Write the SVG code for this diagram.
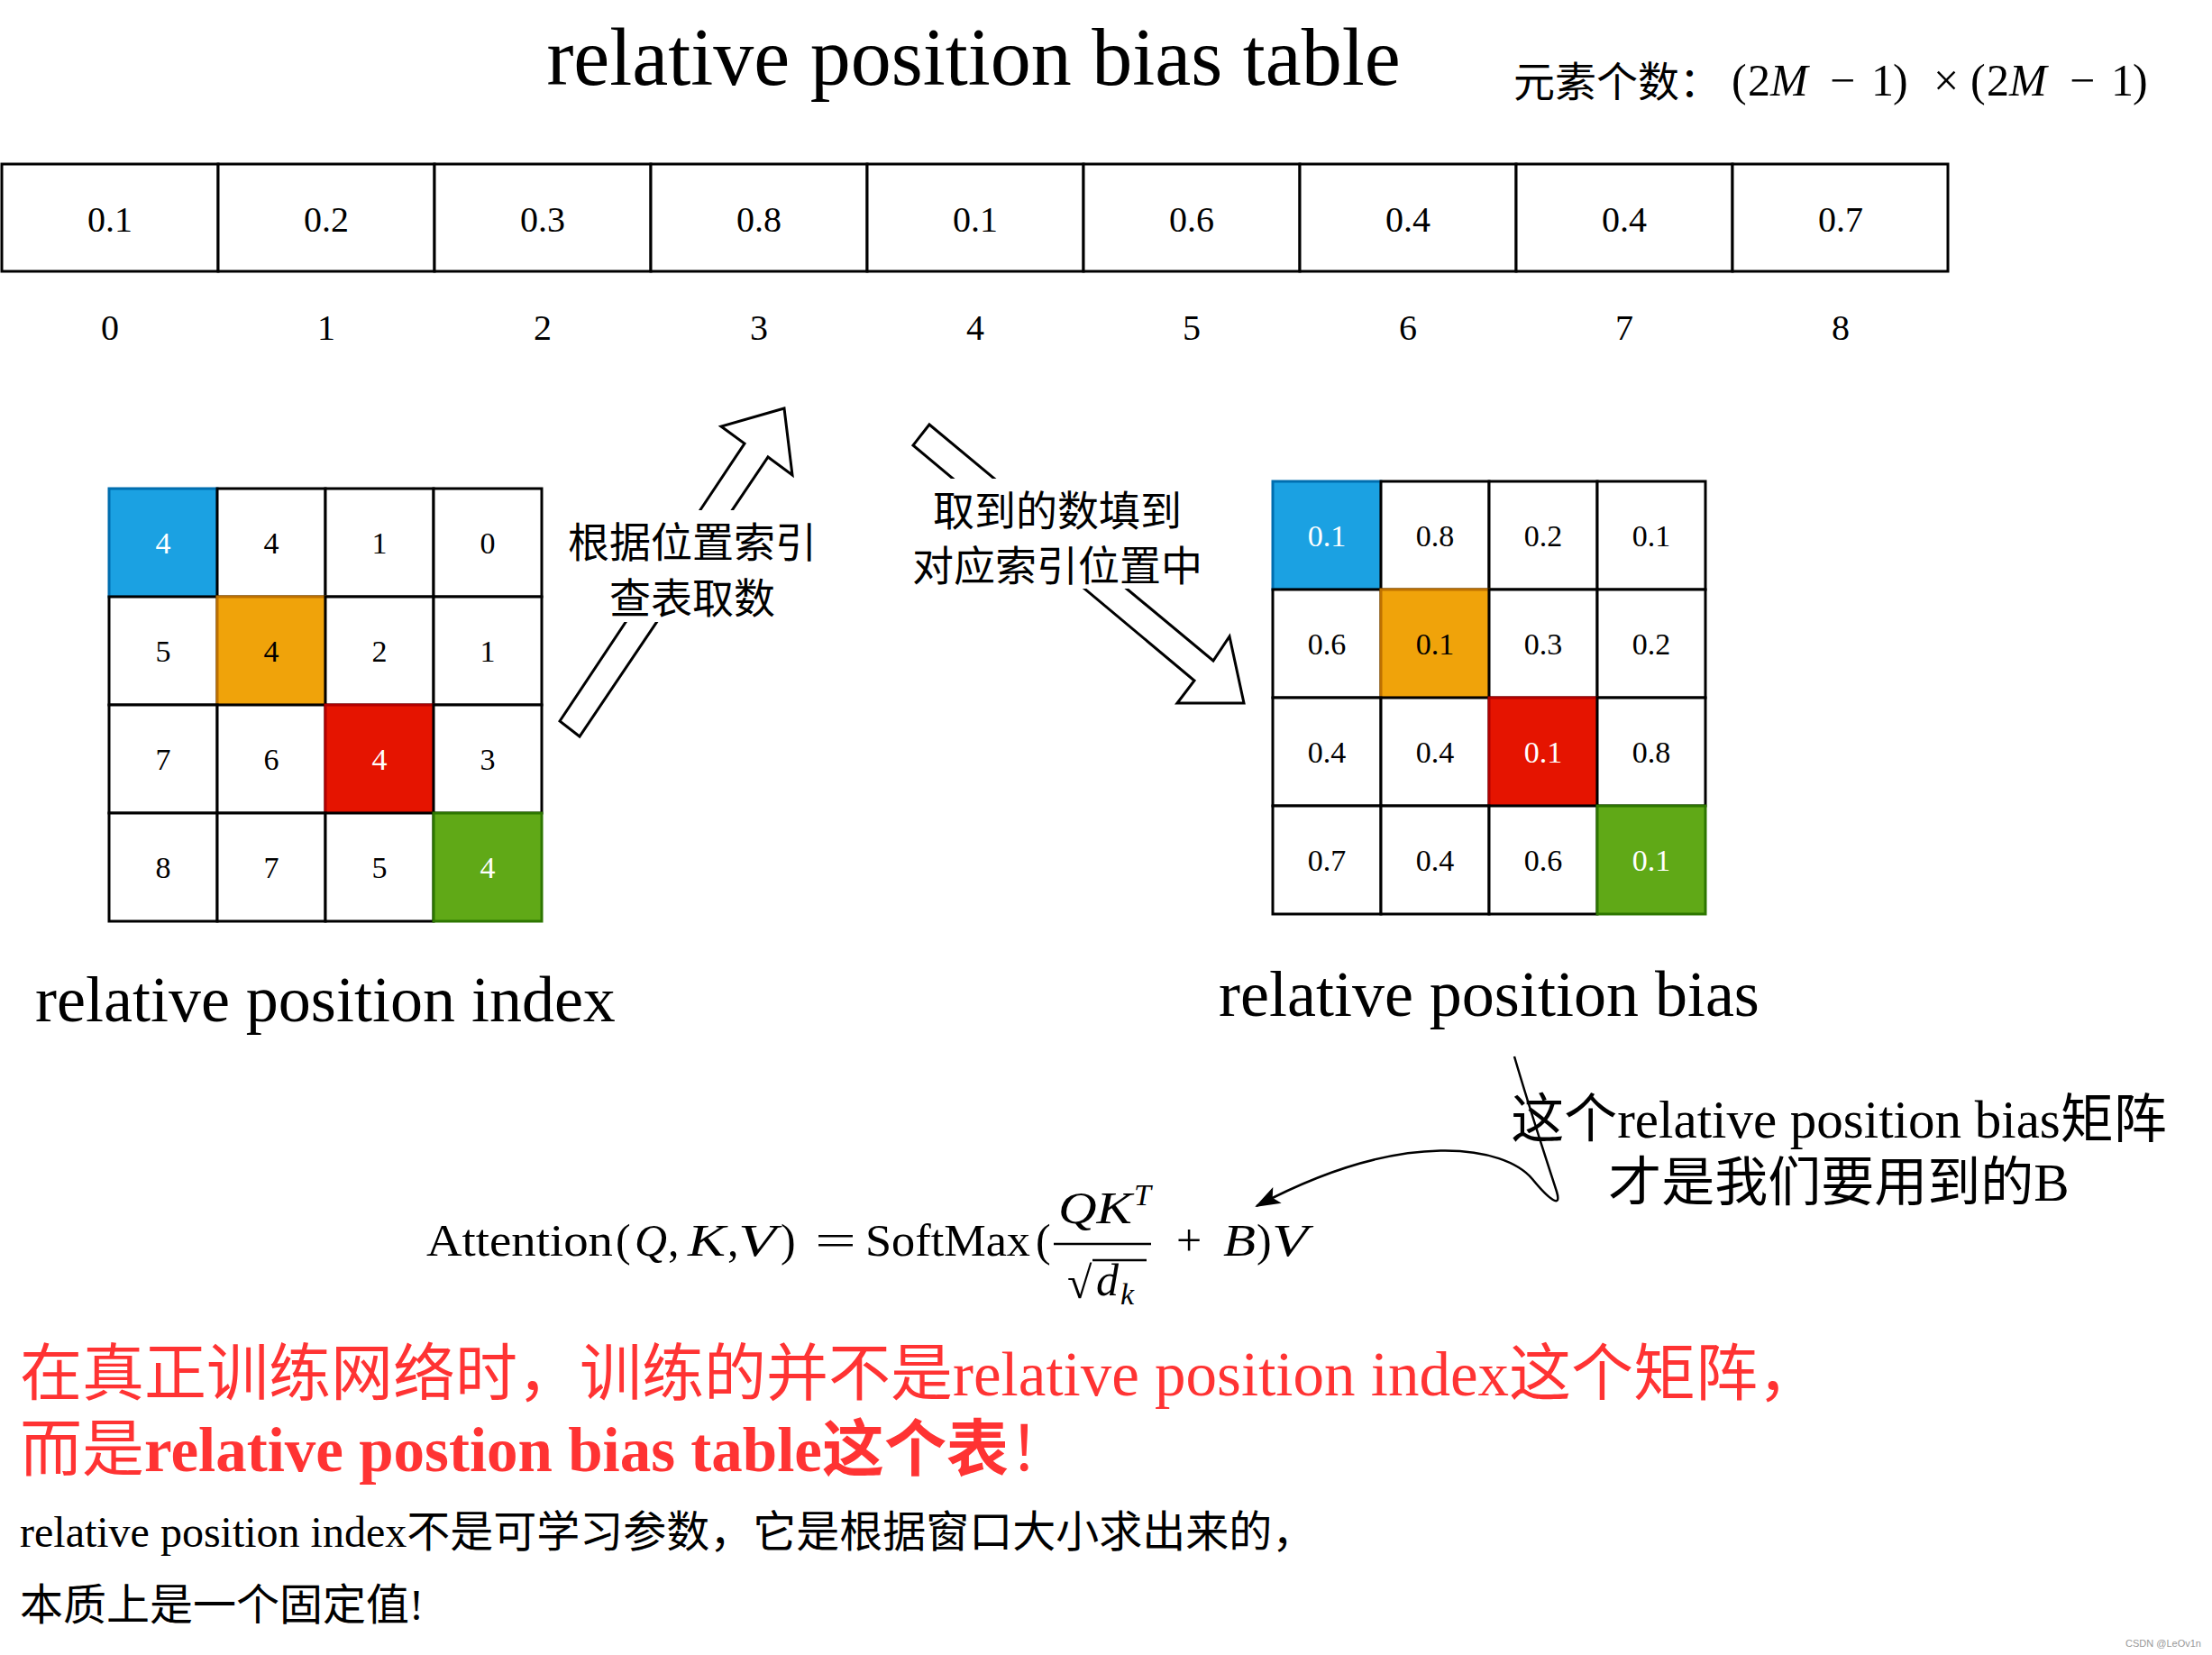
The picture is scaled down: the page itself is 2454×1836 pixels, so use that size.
<svg xmlns="http://www.w3.org/2000/svg" width="2454" height="1836" viewBox="0 0 2454 1836">
<defs>
<style>
.serif{font-family:"Liberation Serif","Times New Roman",serif}
.mix{font-family:"Liberation Serif","Noto Sans CJK SC",sans-serif}
.cjk{font-family:"Noto Sans CJK SC",sans-serif}
.cell{fill:#fff;stroke:#000;stroke-width:3}
.blue{fill:#1BA1E2;stroke:#006EAF;stroke-width:3}
.orange{fill:#F0A30A;stroke:#BD7000;stroke-width:3}
.red{fill:#E51400;stroke:#B20000;stroke-width:3}
.green{fill:#60A917;stroke:#2D7600;stroke-width:3}
.tv{font-family:"Liberation Serif","Times New Roman",serif;font-size:40px;text-anchor:middle;fill:#000}
.gv{font-family:"Liberation Serif","Times New Roman",serif;font-size:34px;text-anchor:middle;fill:#000}
.w{fill:#fff}
.blk{fill:#fff;stroke:#000;stroke-width:3;stroke-linejoin:miter}
.math{font-family:"Liberation Serif","Times New Roman",serif;font-size:50px;fill:#000}
.it{font-style:italic}
.red-t{fill:#FF3333}
</style>
<marker id="ah" markerUnits="userSpaceOnUse" markerWidth="30" markerHeight="24" refX="26" refY="10" orient="auto">
<path d="M0,0 L28,10 L0,20 L6,10 Z" fill="#000"/>
</marker>
</defs>
<rect width="2454" height="1836" fill="#fff"/>

<g id="title">
<text class="serif" x="1080" y="94" font-size="90" text-anchor="middle">relative position bias table</text>
</g>

<g id="element-count">
<text class="cjk" x="1679" y="107" font-size="46">元素个数：</text>
<text class="serif" y="106" font-size="50"><tspan x="1921">(</tspan><tspan x="1939">2</tspan><tspan x="1964" class="it">M</tspan><tspan x="2030">−</tspan><tspan x="2076">1</tspan><tspan x="2100">)</tspan><tspan x="2145">×</tspan><tspan x="2186">(</tspan><tspan x="2204">2</tspan><tspan x="2229" class="it">M</tspan><tspan x="2296">−</tspan><tspan x="2342">1</tspan><tspan x="2366">)</tspan></text>
</g>

<g id="bias-table">
<rect class="cell" x="2" y="182" width="240" height="119"/>
<rect class="cell" x="242" y="182" width="240" height="119"/>
<rect class="cell" x="482" y="182" width="240" height="119"/>
<rect class="cell" x="722" y="182" width="240" height="119"/>
<rect class="cell" x="962" y="182" width="240" height="119"/>
<rect class="cell" x="1202" y="182" width="240" height="119"/>
<rect class="cell" x="1442" y="182" width="240" height="119"/>
<rect class="cell" x="1682" y="182" width="240" height="119"/>
<rect class="cell" x="1922" y="182" width="239" height="119"/>
<text class="tv" x="122" y="257">0.1</text>
<text class="tv" x="362" y="257">0.2</text>
<text class="tv" x="602" y="257">0.3</text>
<text class="tv" x="842" y="257">0.8</text>
<text class="tv" x="1082" y="257">0.1</text>
<text class="tv" x="1322" y="257">0.6</text>
<text class="tv" x="1562" y="257">0.4</text>
<text class="tv" x="1802" y="257">0.4</text>
<text class="tv" x="2042" y="257">0.7</text>
</g>

<g id="table-indices">
<text class="tv" x="122" y="377">0</text>
<text class="tv" x="362" y="377">1</text>
<text class="tv" x="602" y="377">2</text>
<text class="tv" x="842" y="377">3</text>
<text class="tv" x="1082" y="377">4</text>
<text class="tv" x="1322" y="377">5</text>
<text class="tv" x="1562" y="377">6</text>
<text class="tv" x="1802" y="377">7</text>
<text class="tv" x="2042" y="377">8</text>
</g>

<g id="relative-position-index">
<rect class="blue" x="121" y="542" width="120" height="120"/>
<rect class="cell" x="241" y="542" width="120" height="120"/>
<rect class="cell" x="361" y="542" width="120" height="120"/>
<rect class="cell" x="481" y="542" width="120" height="120"/>
<rect class="cell" x="121" y="662" width="120" height="120"/>
<rect class="orange" x="241" y="662" width="120" height="120"/>
<rect class="cell" x="361" y="662" width="120" height="120"/>
<rect class="cell" x="481" y="662" width="120" height="120"/>
<rect class="cell" x="121" y="782" width="120" height="120"/>
<rect class="cell" x="241" y="782" width="120" height="120"/>
<rect class="red" x="361" y="782" width="120" height="120"/>
<rect class="cell" x="481" y="782" width="120" height="120"/>
<rect class="cell" x="121" y="902" width="120" height="120"/>
<rect class="cell" x="241" y="902" width="120" height="120"/>
<rect class="cell" x="361" y="902" width="120" height="120"/>
<rect class="green" x="481" y="902" width="120" height="120"/>
<text class="gv w" x="181" y="614">4</text>
<text class="gv" x="301" y="614">4</text>
<text class="gv" x="421" y="614">1</text>
<text class="gv" x="541" y="614">0</text>
<text class="gv" x="181" y="734">5</text>
<text class="gv" x="301" y="734">4</text>
<text class="gv" x="421" y="734">2</text>
<text class="gv" x="541" y="734">1</text>
<text class="gv" x="181" y="854">7</text>
<text class="gv" x="301" y="854">6</text>
<text class="gv w" x="421" y="854">4</text>
<text class="gv" x="541" y="854">3</text>
<text class="gv" x="181" y="974">8</text>
<text class="gv" x="301" y="974">7</text>
<text class="gv" x="421" y="974">5</text>
<text class="gv w" x="541" y="974">4</text>
<text class="serif" x="39" y="1133" font-size="72">relative position index</text>
</g>

<g id="relative-position-bias">
<rect class="blue" x="1412" y="534" width="120" height="120"/>
<rect class="cell" x="1532" y="534" width="120" height="120"/>
<rect class="cell" x="1652" y="534" width="120" height="120"/>
<rect class="cell" x="1772" y="534" width="120" height="120"/>
<rect class="cell" x="1412" y="654" width="120" height="120"/>
<rect class="orange" x="1532" y="654" width="120" height="120"/>
<rect class="cell" x="1652" y="654" width="120" height="120"/>
<rect class="cell" x="1772" y="654" width="120" height="120"/>
<rect class="cell" x="1412" y="774" width="120" height="120"/>
<rect class="cell" x="1532" y="774" width="120" height="120"/>
<rect class="red" x="1652" y="774" width="120" height="120"/>
<rect class="cell" x="1772" y="774" width="120" height="120"/>
<rect class="cell" x="1412" y="894" width="120" height="120"/>
<rect class="cell" x="1532" y="894" width="120" height="120"/>
<rect class="cell" x="1652" y="894" width="120" height="120"/>
<rect class="green" x="1772" y="894" width="120" height="120"/>
<text class="gv w" x="1472" y="606">0.1</text>
<text class="gv" x="1592" y="606">0.8</text>
<text class="gv" x="1712" y="606">0.2</text>
<text class="gv" x="1832" y="606">0.1</text>
<text class="gv" x="1472" y="726">0.6</text>
<text class="gv" x="1592" y="726">0.1</text>
<text class="gv" x="1712" y="726">0.3</text>
<text class="gv" x="1832" y="726">0.2</text>
<text class="gv" x="1472" y="846">0.4</text>
<text class="gv" x="1592" y="846">0.4</text>
<text class="gv w" x="1712" y="846">0.1</text>
<text class="gv" x="1832" y="846">0.8</text>
<text class="gv" x="1472" y="966">0.7</text>
<text class="gv" x="1592" y="966">0.4</text>
<text class="gv" x="1712" y="966">0.6</text>
<text class="gv w" x="1832" y="966">0.1</text>
<text class="serif" x="1352" y="1127" font-size="72">relative position bias</text>
</g>

<g id="connectors">
<polygon class="blk" points="621,800 826,492 800,473 870,453 879,527 852,507 643,817"/>
<polygon class="blk" points="1031,471 1346,733 1364,706 1380,780 1306,780 1325,755 1013,494"/>
<path d="M1680,1172 C1700,1240 1720,1300 1727,1322 C1733,1342 1718,1330 1700,1308 C1670,1272 1560,1250 1394,1338" fill="none" stroke="#000" stroke-width="2.5" marker-end="url(#ah)"/>
</g>

<g id="label-lookup">
<rect x="620" y="566" width="295" height="124" fill="#fff"/>
<text class="cjk" x="768" y="618" font-size="46" text-anchor="middle">根据位置索引</text>
<text class="cjk" x="768" y="680" font-size="46" text-anchor="middle">查表取数</text>
</g>

<g id="label-fill">
<rect x="1000" y="531" width="348" height="122" fill="#fff"/>
<text class="cjk" x="1173" y="583" font-size="46" text-anchor="middle">取到的数填到</text>
<text class="cjk" x="1173" y="644" font-size="46" text-anchor="middle">对应索引位置中</text>
</g>

<g id="note-b">
<text class="mix" x="2040" y="1262" font-size="59" text-anchor="middle">这个relative position bias矩阵</text>
<text class="mix" x="2040" y="1332" font-size="59" text-anchor="middle">才是我们要用到的B</text>
</g>

<g id="formula" class="math">
<text x="473" y="1393" textLength="207" lengthAdjust="spacingAndGlyphs">Attention</text>
<text x="683" y="1393">(</text>
<text x="704" y="1393" class="it" textLength="36" lengthAdjust="spacingAndGlyphs">Q</text>
<text x="741" y="1393">,</text>
<text x="763" y="1393" class="it" textLength="42" lengthAdjust="spacingAndGlyphs">K</text>
<text x="807" y="1393">,</text>
<text x="819" y="1393" class="it" textLength="42" lengthAdjust="spacingAndGlyphs">V</text>
<text x="866" y="1393">)</text>
<text x="904" y="1393" textLength="46" lengthAdjust="spacingAndGlyphs">=</text>
<text x="960" y="1393" textLength="183" lengthAdjust="spacingAndGlyphs">SoftMax</text>
<text x="1149" y="1393">(</text>
<text x="1174" y="1357" class="it" textLength="82" lengthAdjust="spacingAndGlyphs">QK</text>
<text x="1258" y="1337" class="it" font-size="34">T</text>
<line x1="1169" y1="1380" x2="1277" y2="1380" stroke="#000" stroke-width="2.5"/>
<text x="1184" y="1440">√</text>
<line x1="1212" y1="1398" x2="1272" y2="1398" stroke="#000" stroke-width="2.5"/>
<text x="1216" y="1437" class="it">d</text>
<text x="1243" y="1447" class="it" font-size="34">k</text>
<text x="1305" y="1393">+</text>
<text x="1357" y="1393" class="it" textLength="36" lengthAdjust="spacingAndGlyphs">B</text>
<text x="1394" y="1393">)</text>
<text x="1411" y="1393" class="it" textLength="40" lengthAdjust="spacingAndGlyphs">V</text>
</g>

<g id="red-note">
<text class="mix red-t" x="22" y="1548" font-size="69">在真正训练网络时，训练的并不是relative position index这个矩阵，</text>
<text class="mix red-t" x="22" y="1632" font-size="69">而是<tspan font-weight="bold">relative postion bias table这个表</tspan>！</text>
</g>

<g id="black-note">
<text class="mix" x="22" y="1716" font-size="48">relative position index不是可学习参数，它是根据窗口大小求出来的，</text>
<text class="mix" x="22" y="1797" font-size="48">本质上是一个固定值!</text>
</g>

<g id="watermark">
<text x="2358" y="1827" font-family="Liberation Sans, sans-serif" font-size="11" fill="#999">CSDN @LeOv1n</text>
</g>
</svg>
